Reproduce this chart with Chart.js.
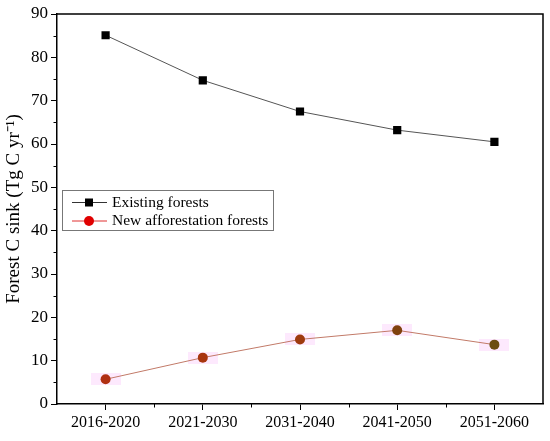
<!DOCTYPE html>
<html><head><meta charset="utf-8">
<script src="https://cdn.jsdelivr.net/npm/chart.js@4"></script>
<style>html,body{margin:0;padding:0;background:#fff;}#wrap{width:550px;height:441px;}</style>
</head><body><div id="wrap"><canvas id="c" width="550" height="441"></canvas></div>
<script>
const categories = ['2016-2020','2021-2030','2031-2040','2041-2050','2051-2060'];
const existingForests = [85.1, 74.7, 67.5, 63.2, 60.5];
const newAfforestation = [5.7, 10.7, 14.9, 17.0, 13.7];
const yTicks = [0,10,20,30,40,50,60,70,80,90];
const seriesNames = ['Existing forests','New afforestation forests'];
const newPointColors = ['#b03012','#a8360f','#9e3a0e','#80420e','#6c4e10'];

const FONT = '"Liberation Serif", "Times New Roman", serif';

// pink patch style for point halo
const patch = document.createElement('canvas');
patch.width = 30; patch.height = 12;
(function(){const p=patch.getContext('2d');p.fillStyle='rgba(250,200,250,0.4)';p.fillRect(0,0,30,12);})();

const framePlugin = {
  id:'frame',
  afterDraw(chart){
    const {ctx, chartArea:a, scales:{x,y}} = chart;
    ctx.save();
    ctx.strokeStyle='#000'; ctx.lineWidth=1.5;
    ctx.beginPath();
    ctx.moveTo(a.left,a.top); ctx.lineTo(a.right,a.top); ctx.lineTo(a.right,a.bottom);
    ctx.stroke();
    ctx.lineWidth=1;
    ctx.beginPath();
    for(let i=0;i<yTicks.length-1;i++){
      const v=(yTicks[i]+yTicks[i+1])/2;
      const py=Math.round(y.getPixelForValue(v))+0.5;
      ctx.moveTo(a.left,py); ctx.lineTo(a.left-3.5,py);
    }
    for(let i=0;i<categories.length-1;i++){
      const px=Math.round((x.getPixelForValue(i)+x.getPixelForValue(i+1))/2)+0.5;
      ctx.moveTo(px,a.bottom); ctx.lineTo(px,a.bottom+3.5);
    }
    ctx.stroke();
    // legend
    const lx=62, ly=190, lw=211, lh=40;
    ctx.fillStyle='#fff'; ctx.fillRect(lx,ly,lw,lh);
    ctx.strokeStyle='#777'; ctx.lineWidth=1;
    ctx.strokeRect(lx+0.5,ly+0.5,lw,lh);
    ctx.font='15.5px '+FONT; ctx.textBaseline='middle'; ctx.textAlign='left';
    let ry=ly+12.5;
    ctx.strokeStyle='#333'; ctx.beginPath(); ctx.moveTo(lx+10,ry); ctx.lineTo(lx+45,ry); ctx.stroke();
    ctx.fillStyle='#000'; ctx.fillRect(lx+23,ry-4,8,8);
    ctx.fillText(seriesNames[0], lx+50, ry);
    ry=ly+31;
    ctx.strokeStyle='#e03030'; ctx.beginPath(); ctx.moveTo(lx+10,ry); ctx.lineTo(lx+45,ry); ctx.stroke();
    ctx.fillStyle='#e00000'; ctx.beginPath(); ctx.arc(lx+27,ry,5,0,Math.PI*2); ctx.fill();
    ctx.fillStyle='#000';
    ctx.fillText(seriesNames[1], lx+50, ry);
    ctx.restore();
  }
};

new Chart(document.getElementById('c'), {
  type:'line',
  data:{
    labels:categories,
    datasets:[
      {label:'halo', data:newAfforestation, showLine:false, pointStyle:patch, pointRadius:6, pointHoverRadius:6, order:3},
      {label:seriesNames[0], data:existingForests, borderColor:'#555', borderWidth:1, pointStyle:'rect', pointRadius:5.8, pointBackgroundColor:'#000', pointBorderColor:'#000', pointBorderWidth:0, tension:0, order:1},
      {label:seriesNames[1], data:newAfforestation, borderColor:'#c27a68', borderWidth:1, pointStyle:'circle', pointRadius:5, pointBackgroundColor:newPointColors, pointBorderColor:newPointColors, pointBorderWidth:0, tension:0, order:2}
    ]
  },
  options:{
    responsive:false, animation:false,
    layout:{padding:{top:14,right:4,left:0,bottom:0}},
    plugins:{legend:{display:false}, tooltip:{enabled:false}},
    scales:{
      x:{
        type:'category', offset:true,
        grid:{display:true, drawOnChartArea:false, drawTicks:true, tickLength:6, color:'#000', offset:false},
        border:{display:true, color:'#000', width:1.5},
        ticks:{color:'#000', font:{family:FONT, size:16}, padding:3, maxRotation:0},
        afterFit(s){s.height=37;}
      },
      y:{
        min:0, max:90,
        afterBuildTicks(s){ s.ticks = yTicks.map(v=>({value:v})); },
        grid:{display:true, drawOnChartArea:false, drawTicks:true, tickLength:6, color:'#000'},
        border:{display:true, color:'#000', width:1.5},
        ticks:{color:'#000', font:{family:FONT, size:17}, padding:3},
        title:{display:true, text:'Forest C sink (Tg C yr\u207B\u00B9)', color:'#000', font:{family:FONT, size:19}, padding:{top:3,bottom:0}},
        afterFit(s){s.width=57;}
      }
    }
  },
  plugins:[framePlugin]
});
</script></body></html>
